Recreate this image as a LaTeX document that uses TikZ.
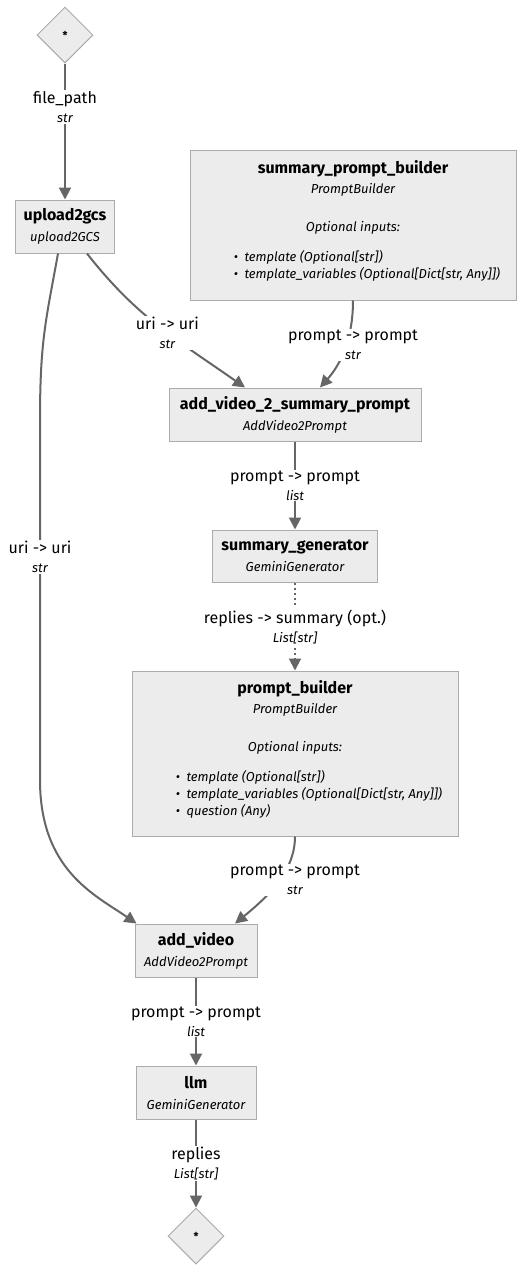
\documentclass[tikz,border=0pt]{standalone}
\usepackage{fontspec}
\setmainfont{Fira Sans}
\usetikzlibrary{positioning, shapes.geometric, arrows.meta}

\definecolor{boxfill}{HTML}{ECECEC}
\definecolor{boxline}{HTML}{ABABAB}
\definecolor{edgegray}{HTML}{666666}

\newcommand{\comptitle}[1]{{\fontsize{16}{20}\selectfont\bfseries\upshape #1}}
\newcommand{\edgename}[1]{{\fontsize{16}{19}\selectfont\upshape #1}}

\begin{document}
\begin{tikzpicture}[x=1pt, y=1pt, node distance=88pt,
    comp/.style={draw=boxline, fill=boxfill, line width=1pt, align=center,
        inner xsep=6pt, inner ysep=3pt, font=\fontsize{13}{17}\selectfont\itshape},
    io/.style={draw=boxline, fill=boxfill, line width=1pt, diamond, minimum size=56pt,
        inner sep=0pt, font=\fontsize{11}{13}\selectfont\bfseries},
    flow/.style={draw=edgegray, line width=2pt, -{Triangle[length=12pt, width=12pt]}},
    lbl/.style={fill=white, align=center, inner sep=1pt, font=\fontsize{13}{19}\selectfont\itshape}
]
        \useasboundingbox (0,0) rectangle (524,-1269);

        \node[io]                                  (in)      at (65,-35)  {*};
        \node[comp, minimum width=99pt, minimum height=53pt, below=136pt of in]
                                                   (upload)  {\comptitle{upload2gcs}\\[4pt]upload2GCS};
        \node[comp, minimum width=326pt, minimum height=150pt]
                                                   (spb)     at (353,-225)
            {\comptitle{summary\_prompt\_builder}\\[3pt]PromptBuilder\\[21pt]Optional inputs:\\[13pt]
             \hspace*{28pt}\begin{tabular}[t]{@{}l@{}}\textbullet\enspace template (Optional[str])\\
             \textbullet\enspace template\_variables (Optional[Dict[str, Any]])\end{tabular}\rule[-27pt]{0pt}{0pt}};
        \node[comp, minimum width=252pt, minimum height=53pt]
                                                   (av2)     at (295,-414.5)
            {\comptitle{add\_video\_2\_summary\_prompt}\\[4pt]AddVideo2Prompt};
        \node[comp, minimum width=165pt, minimum height=52pt, below=of av2]
                                                   (sg)      {\comptitle{summary\_generator}\\[4pt]GeminiGenerator};
        \node[comp, minimum width=326pt, minimum height=165pt, below=of sg]
                                                   (pb)
            {\comptitle{prompt\_builder}\\[3pt]PromptBuilder\\[21pt]Optional inputs:\\[13pt]
             \hspace*{28pt}\begin{tabular}[t]{@{}l@{}}\textbullet\enspace template (Optional[str])\\
             \textbullet\enspace template\_variables (Optional[Dict[str, Any]])\\
             \textbullet\enspace question (Any)\end{tabular}\rule[-44pt]{0pt}{0pt}};
        \node[comp, minimum width=122pt, minimum height=53pt]
                                                   (addvid)  at (196,-950.5)
            {\comptitle{add\_video}\\[4pt]AddVideo2Prompt};
        \node[comp, minimum width=120pt, minimum height=53pt, below=of addvid]
                                                   (llm)     {\comptitle{llm}\\[4pt]GeminiGenerator};
        \node[io, below=of llm]                    (out)     {*};

        \draw[flow] (in) -- node[lbl, pos=0.32] {\edgename{file\_path}\\str} (upload);
        \draw[flow] ([xshift=22pt]upload.south) to[out=-52, in=145]
            node[lbl, pos=0.55] {\edgename{uri -> uri}\\str} ([xshift=-50pt]av2.north);
        \draw[flow] ([xshift=-7pt]upload.south) .. controls (46,-320) and (40,-340) .. (40,-420)
            -- node[lbl, pos=0.38] {\edgename{uri -> uri}\\str} (40,-780)
            .. controls (40,-870) and (95,-895) .. ([xshift=2pt]addvid.north west);
        \draw[flow] (spb.south) .. controls (353,-340) and (340,-365) .. ([xshift=25pt]av2.north)
            node[lbl] at (353,-345) {\edgename{prompt -> prompt}\\str};
        \draw[flow] (av2) -- node[lbl] {\edgename{prompt -> prompt}\\list} (sg);
        \draw[flow, dash pattern=on 2pt off 3pt] (sg) -- node[lbl] {\edgename{replies -> summary (opt.)}\\List[str]} (pb);
        \draw[flow] (pb.south) .. controls (295,-870) and (270,-895) .. ([xshift=39pt]addvid.north)
            node[lbl] at (295,-880) {\edgename{prompt -> prompt}\\str};
        \draw[flow] (addvid) -- node[lbl] {\edgename{prompt -> prompt}\\list} (llm);
        \draw[flow] (llm) -- node[lbl] {\edgename{replies}\\List[str]} (out);
\end{tikzpicture}
\end{document}
